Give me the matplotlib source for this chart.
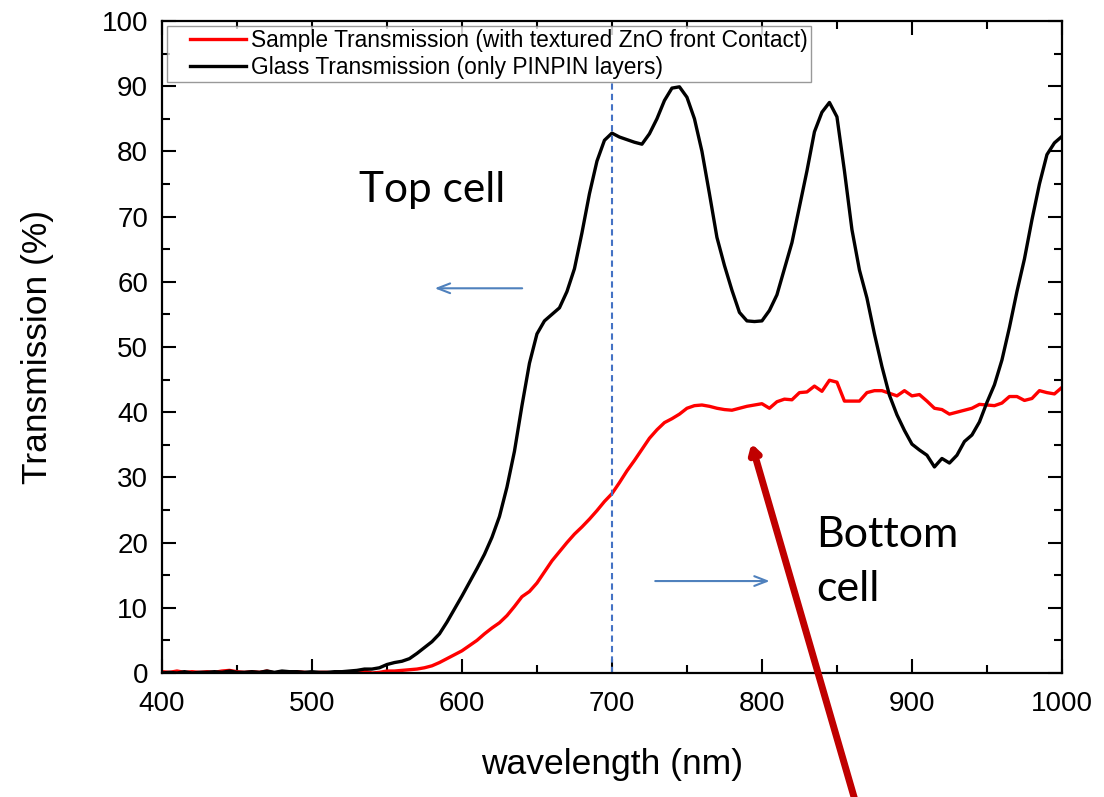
import matplotlib
matplotlib.use('Agg')
import matplotlib.pyplot as plt
from matplotlib.ticker import MultipleLocator
from matplotlib.lines import Line2D
from matplotlib.legend_handler import HandlerLine2D

plt.rcParams['font.family'] = ['Liberation Sans', 'DejaVu Sans']

# wavelength grid (nm), 5 nm steps
wl = list(range(400, 1001, 5))

# transmission through glass, only the PINPIN layers (%)
glass = [0.0, 0.1, 0.0, 0.2, 0.0, 0.1, 0.1, 0.2, 0.1, 0.3,
         0.1, 0.1, 0.2, 0.1, 0.3, 0.1, 0.3, 0.2, 0.2, 0.1,
         0.2, 0.1, 0.1, 0.2, 0.2, 0.3, 0.4, 0.6, 0.6, 0.8,
         1.3, 1.6, 1.8, 2.2, 3.0, 3.9, 4.8, 6.0, 7.8, 9.8,
         11.8, 13.9, 16.0, 18.2, 20.8, 24.0, 28.5, 34.0, 41.0, 47.5,
         52.0, 54.0, 55.0, 56.0, 58.5, 62.0, 67.5, 73.5, 78.5, 81.7,
         82.8, 82.2, 81.8, 81.4, 81.1, 82.7, 85.0, 87.8, 89.7, 89.9,
         88.3, 85.0, 80.0, 73.5, 66.8, 62.5, 58.7, 55.3, 54.0, 53.9,
         54.0, 55.6, 58.0, 62.0, 66.0, 71.5, 77.0, 83.0, 86.0, 87.5,
         85.3, 77.0, 68.0, 61.8, 57.5, 52.0, 47.0, 42.6, 39.6, 37.2,
         35.1, 34.2, 33.4, 31.6, 32.9, 32.2, 33.4, 35.5, 36.5, 38.5,
         41.5, 44.2, 48.0, 53.0, 58.5, 63.5, 69.5, 75.0, 79.5, 81.3,
         82.3]

# sample transmission with textured ZnO front contact (%)
sample = [0.2, 0.1, 0.3, 0.1, 0.2, 0.1, 0.2, 0.1, 0.3, 0.4,
          0.2, 0.1, 0.2, 0.1, 0.3, 0.0, 0.2, 0.1, 0.2, 0.1,
          0.0, 0.1, 0.1, 0.0, 0.1, 0.2, 0.1, 0.3, 0.0, 0.1,
          0.3, 0.3, 0.4, 0.5, 0.6, 0.8, 1.1, 1.6, 2.2, 2.8,
          3.4, 4.2, 5.0, 6.0, 6.9, 7.7, 8.8, 10.2, 11.7, 12.5,
          13.8, 15.5, 17.2, 18.6, 20.0, 21.3, 22.4, 23.6, 24.9, 26.3,
          27.5, 29.2, 31.0, 32.6, 34.3, 36.0, 37.3, 38.4, 39.0, 39.7,
          40.6, 41.0, 41.1, 40.9, 40.6, 40.4, 40.3, 40.6, 40.9, 41.1,
          41.3, 40.6, 41.6, 42.0, 41.9, 43.0, 43.1, 44.0, 43.2, 44.9,
          44.6, 41.7, 41.7, 41.7, 43.0, 43.3, 43.3, 42.9, 42.5, 43.3,
          42.5, 42.7, 41.7, 40.6, 40.4, 39.7, 40.0, 40.3, 40.6, 41.2,
          41.1, 41.0, 41.4, 42.4, 42.4, 41.8, 42.1, 43.3, 43.0, 42.8,
          43.8]

fig = plt.figure(figsize=(11.04, 7.97), dpi=100)
ax = fig.add_axes([0.1467, 0.1556, 0.8152, 0.8181])

ax.plot(wl, sample, color='#ff0000', lw=2.4,
        label='Sample Transmission (with textured ZnO front Contact)')
ax.plot(wl, glass, color='black', lw=2.4,
        label='Glass Transmission (only PINPIN layers)')

ax.set_xlim(400, 1000)
ax.set_ylim(0, 100)
ax.xaxis.set_major_locator(MultipleLocator(100))
ax.xaxis.set_minor_locator(MultipleLocator(50))
ax.yaxis.set_major_locator(MultipleLocator(10))
ax.yaxis.set_minor_locator(MultipleLocator(5))
ax.tick_params(which='both', direction='in', top=True, right=True, width=1.5)
ax.tick_params(which='major', length=10, labelsize=20)
ax.tick_params(axis='x', which='major', pad=13)
ax.tick_params(axis='y', which='major', pad=10)
ax.tick_params(which='minor', length=6)
for s in ax.spines.values():
    s.set_linewidth(1.6)

ax.set_xlabel('wavelength (nm)', fontsize=25.5, labelpad=22)
ax.set_ylabel('Transmission (%)', fontsize=25.5, labelpad=34)

leg = ax.legend(loc='upper left', bbox_to_anchor=(0.0056, 0.993), fontsize=16.4,
                frameon=True, fancybox=False, edgecolor='#808080',
                handlelength=3.3, handletextpad=0.22, labelspacing=0.18,
                borderpad=0.15, borderaxespad=0,
                handler_map={Line2D: HandlerLine2D(xpad=0.85)})
leg.get_frame().set_linewidth(1.0)

# boundary between top and bottom cell
ax.plot([700, 700], [0, 90.5], color='#4472c4', lw=1.5, ls=(0, (3, 2)))

lato = ['Lato', 'DejaVu Sans']
ax.text(580, 74, 'Top cell', fontsize=30.5, family=lato, ha='center', va='center')
ax.text(836, 17, 'Bottom\ncell', fontsize=31, family=lato, ha='left', va='center',
        linespacing=1.5)

blue = '#4f81bd'
ax.annotate('', xy=(580, 59), xytext=(642, 59),
            arrowprops=dict(arrowstyle='->,head_length=0.9,head_width=0.35',
                            color=blue, lw=1.5))
ax.annotate('', xy=(807, 14.1), xytext=(727, 14.1),
            arrowprops=dict(arrowstyle='->,head_length=0.9,head_width=0.35',
                            color=blue, lw=1.5))

# red pointer to the sample curve
ax.annotate('', xy=(793, 35.2), xytext=(862, -19.5), annotation_clip=False,
            arrowprops=dict(arrowstyle='->,head_length=0.5,head_width=0.3',
                            color='#c00000', lw=5, shrinkA=0, shrinkB=0))

fig.savefig('out.png', dpi=100)
